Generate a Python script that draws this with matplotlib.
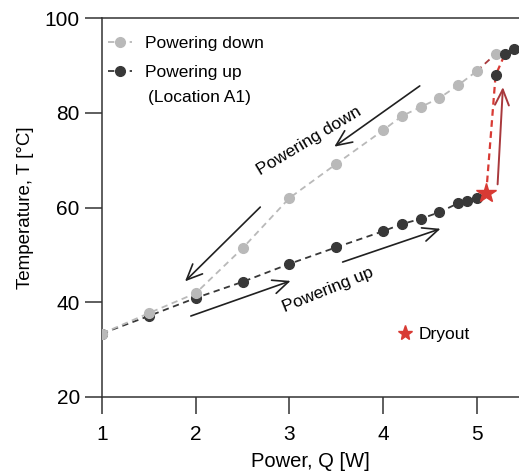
import matplotlib.pyplot as plt
from matplotlib.lines import Line2D

plt.rcParams['font.family'] = ['Liberation Sans', 'DejaVu Sans']
plt.rcParams['font.size'] = 12.5

# powering down (grey)
q_down = [1.0, 1.5, 2.0, 2.5, 3.0, 3.5, 4.0, 4.2, 4.4, 4.6, 4.8, 5.0, 5.2]
t_down = [33.4, 37.7, 41.9, 51.4, 62.0, 69.2, 76.3, 79.3, 81.2, 83.1, 85.8, 88.8, 92.4]

# powering up (dark), up to dryout
q_up = [1.0, 1.5, 2.0, 2.5, 3.0, 3.5, 4.0, 4.2, 4.4, 4.6, 4.8, 4.9, 5.0]
t_up = [33.4, 37.1, 40.9, 44.3, 48.1, 51.6, 55.0, 56.5, 57.6, 59.0, 60.9, 61.4, 62.0]

# after dryout
q_post = [5.2, 5.3, 5.4]
t_post = [87.9, 92.4, 93.4]

q_dry = 5.1
t_dry = 63.0

grey = '#b9b9b9'
dark = '#383838'
red = '#d83a34'
darkred = '#a8383c'

fig = plt.figure(figsize=(5.19, 4.76), dpi=100)
ax = fig.add_axes([102 / 519, 1 - 397 / 476, 1 - 102 / 519, (397 - 18) / 476])

dash = (0, (3.5, 2.5))
ms = 7
ax.plot(q_up + [q_dry], t_up + [t_dry], ls=dash, color=dark, lw=1.3, zorder=2)
ax.plot(q_up, t_up, ls='none', marker='o', ms=ms, color=dark, zorder=3)
ax.plot(q_down[:-1], t_down[:-1], ls=dash, color=grey, lw=1.3, zorder=4)
ax.plot(q_down[-2:], t_down[-2:], ls=dash, color=darkred, lw=1.3, zorder=4)
ax.plot(q_down, t_down, ls='none', marker='o', ms=ms, color=grey, zorder=5)

# dryout jump
ax.plot([q_dry, q_post[0], q_post[1]], [t_dry, t_post[0], t_post[1]],
        ls=(0, (3, 2)), color=red, lw=1.6, zorder=2)
ax.plot(q_post, t_post, ls='none', marker='o', ms=ms, color=dark, zorder=6)
ax.plot([q_dry], [t_dry], ls='none', marker='*', ms=15, color=red, zorder=7)

# arrows
arr = dict(arrowstyle='->,head_length=0.9,head_width=0.4', color='#202020', lw=1.2)
ax.annotate('', xy=(3.455, 72.5), xytext=(4.415, 86.0), arrowprops=arr)
ax.annotate('', xy=(1.865, 44.0), xytext=(2.71, 60.5), arrowprops=arr)
ax.annotate('', xy=(3.04, 44.7), xytext=(1.92, 36.9), arrowprops=arr)
ax.annotate('', xy=(4.64, 55.7), xytext=(3.54, 48.3), arrowprops=arr)
ax.annotate('', xy=(5.28, 86.0), xytext=(5.22, 64.3),
            arrowprops=dict(arrowstyle='->,head_length=0.9,head_width=0.4',
                            color=darkred, lw=1.4))

ax.text(3.21, 74.0, 'Powering down', rotation=31, ha='center', va='center')
ax.text(3.41, 42.6, 'Powering up', rotation=22, ha='center', va='center')

handles = [Line2D([], [], ls=dash, color=grey, marker='o', ms=ms, lw=1.3),
           Line2D([], [], ls=dash, color=dark, marker='o', ms=ms, lw=1.3)]
leg = ax.legend(handles, ['Powering down', 'Powering up'], loc='upper left',
                bbox_to_anchor=(-0.02, 0.99), frameon=False, handlelength=1.4,
                handletextpad=0.75, labelspacing=0.8, borderaxespad=0.4)
ax.add_artist(leg)
ax.text(148 / 519, 1 - 98 / 476, '(Location A1)', transform=fig.transFigure,
        ha='left', va='center')

dry = Line2D([], [], ls='none', marker='*', ms=11, color=red)
ax.legend([dry], ['Dryout'], loc='center left', bbox_to_anchor=(0.672, 0.166),
          frameon=False, handlelength=0.8, handletextpad=0.4)

ax.set_xlim(1, 5.45)
ax.set_ylim(20, 100)
ax.set_xticks([1, 2, 3, 4, 5])
ax.set_yticks([20, 40, 60, 80, 100])
ax.set_xlabel('Power, Q [W]', fontsize=14.5, labelpad=6)
ax.set_ylabel('Temperature, T [°C]', fontsize=13.5, labelpad=8)
ax.spines['right'].set_visible(False)
for s in ['left', 'bottom', 'top']:
    ax.spines[s].set_color('#333333')
    ax.spines[s].set_linewidth(1.1)
ax.tick_params(direction='out', length=12, width=1.1, color='#333333',
               labelsize=15)
ax.tick_params(axis='x', pad=8)
ax.tick_params(axis='y', pad=4)

fig.savefig('out.png', dpi=100)
